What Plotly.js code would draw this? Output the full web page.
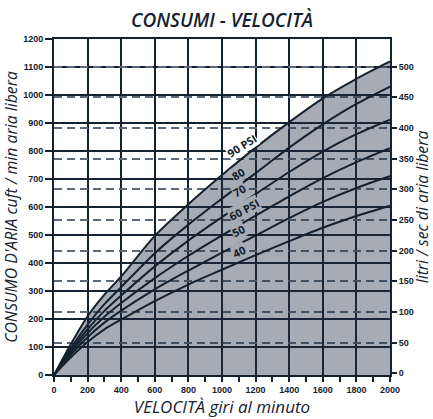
<!DOCTYPE html>
<html>
<head>
<meta charset="utf-8">
<script src="https://cdn.plot.ly/plotly-3.0.1.min.js"></script>
<style>
html,body{margin:0;padding:0;background:#fff;}
#chart{width:433px;height:419px;}
</style>
</head>
<body>
<div id="chart"></div>
<script>
// Speed (rpm)
const rpm   = [0, 100, 200, 300, 400, 600, 800, 1000, 1200, 1400, 1600, 1800, 2000];
// Air consumption (cfm) per pressure curve
const psi90 = [0, 110, 210, 287, 352, 497, 610, 714, 812, 903, 988, 1058, 1120];
const psi80 = [0, 96, 180, 253, 314, 435, 537, 630, 721, 812, 895, 968, 1030];
const psi70 = [0, 88, 164, 229, 284, 388, 480, 564, 646, 725, 798, 860, 912];
const psi60 = [0, 80, 150, 208, 257, 346, 426, 499, 569, 638, 703, 760, 810];
const psi50 = [0, 72, 135, 187, 230, 306, 373, 437, 498, 560, 618, 668, 710];
const psi40 = [0, 63, 118, 163, 198, 264, 323, 376, 428, 478, 526, 568, 605];
const seriesNames = ['90 PSI', '80', '70', '60 PSI', '50', '40'];
// Curve label positions (rpm, cfm) and angle
const labelX = [1120, 1100, 1102, 1130, 1100, 1102];
const labelY = [818, 718, 658, 592, 516, 440];
const labelAngle = [-32, -31, -30, -28, -27, -25];
// Axis ticks
const xTicks = [0, 200, 400, 600, 800, 1000, 1200, 1400, 1600, 1800, 2000];
const xMinorTicks = [100, 300, 500, 700, 900, 1100, 1300, 1500, 1700, 1900];
const yTicks = [0, 100, 200, 300, 400, 500, 600, 700, 800, 900, 1000, 1100, 1200];
const lsTicks = [0, 50, 100, 150, 200, 250, 300, 350, 400, 450, 500];
const lsGrid = [50, 100, 150, 200, 250, 300, 350, 400, 450, 500];

const INK = '#14212f';
const FILL = 'rgba(30,47,70,0.40)';
const FILL_SOLID = '#a5acb5';
const series = [psi90, psi80, psi70, psi60, psi50, psi40];

const traces = series.map((ys, i) => ({
  x: rpm, y: ys, type: 'scatter', mode: 'lines', name: seriesNames[i],
  line: {color: INK, width: 2, shape: 'spline', smoothing: 0.8},
  fill: i === 0 ? 'tozeroy' : 'none',
  fillcolor: FILL,
  hoverinfo: 'skip', showlegend: false
}));
// empty traces so the right-hand (l/s) axes are drawn
traces.push({x: [], y: [], type: 'scatter', mode: 'lines', yaxis: 'y2', showlegend: false, hoverinfo: 'skip'});
traces.push({x: [], y: [], type: 'scatter', mode: 'lines', yaxis: 'y3', showlegend: false, hoverinfo: 'skip'});

const annotations = seriesNames.map((t, i) => ({
  x: labelX[i], y: labelY[i], xref: 'x', yref: 'y', text: t,
  showarrow: false, textangle: labelAngle[i],
  font: {family: 'Open Sans', size: 11, weight: 700, color: INK},
  bgcolor: i === 0 ? '#ffffff' : FILL_SOLID, borderpad: 0
}));

const tickFont = {family: 'Liberation Sans', size: 9, weight: 700, color: INK};
const yTitleFont = {family: 'Open Sans', size: 15.8, style: 'italic', color: INK};
const xTitleFont = {family: 'Open Sans', size: 17, style: 'italic', color: INK};

const layout = {
  width: 433, height: 419,
  margin: {l: 54, r: 43, t: 39, b: 44},
  paper_bgcolor: '#ffffff', plot_bgcolor: '#ffffff',
  title: {text: 'CONSUMI - VELOCITÀ', x: 0.5, xanchor: 'center', xref: 'paper',
          y: 0.952, yref: 'container', yanchor: 'middle',
          font: {family: 'Open Sans', size: 19, weight: 600, style: 'italic', color: INK}},
  xaxis: {range: [0, 2000], tickvals: xTicks, showgrid: true, gridcolor: INK, gridwidth: 1.5,
          zeroline: false, showline: true, linecolor: INK, linewidth: 2, mirror: true,
          ticks: 'outside', ticklen: 5, tickwidth: 1.5, tickcolor: INK,
          minor: {tickvals: xMinorTicks, ticks: 'outside', ticklen: 5, tickwidth: 1.5, tickcolor: INK, showgrid: false},
          tickfont: tickFont,
          title: {text: 'VELOCITÀ giri al minuto', font: xTitleFont, standoff: 3}},
  yaxis: {range: [0, 1200], tickvals: yTicks, showgrid: true, gridcolor: INK, gridwidth: 1.5,
          zeroline: false, showline: true, linecolor: INK, linewidth: 2, mirror: true,
          ticks: 'outside', ticklen: 7, tickwidth: 1.5, tickcolor: INK, tickfont: tickFont,
          title: {text: "CONSUMO D'ARIA cuft / min aria libera", font: yTitleFont, standoff: 4}},
  yaxis2: {range: [-3, 545], overlaying: 'y', side: 'right', anchor: 'x',
           tickvals: lsTicks, showgrid: false, zeroline: false, showline: false,
           ticks: 'outside', ticklen: 6, tickwidth: 1.5, tickcolor: INK, tickfont: tickFont,
           title: {text: 'litri / sec di aria libera', font: yTitleFont, standoff: 5}},
  yaxis3: {range: [-3, 545], overlaying: 'y', side: 'right', anchor: 'x',
           tickvals: lsGrid, showgrid: true, griddash: '8px,5px', gridcolor: '#5d6976', gridwidth: 2,
           showticklabels: false, ticks: '', zeroline: false, showline: false},
  annotations: annotations,
  showlegend: false
};

Plotly.newPlot('chart', traces, layout, {displayModeBar: false});
</script>
</body>
</html>
